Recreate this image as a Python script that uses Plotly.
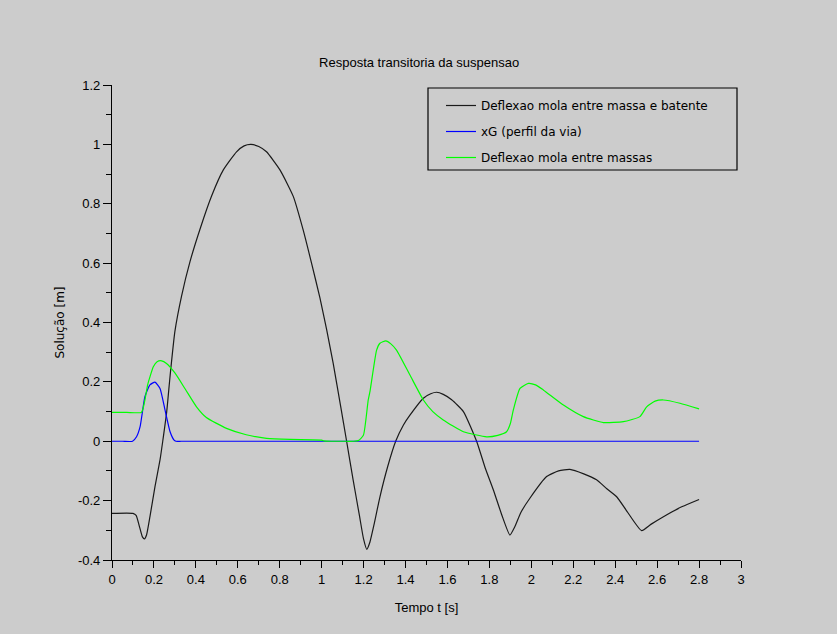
import plotly.graph_objects as go

# ---- data ----
t_black = [0, 0.1, 0.115, 0.13, 0.145, 0.155, 0.165, 0.181, 0.205, 0.229, 0.242, 0.261, 0.277, 0.3,
           0.332, 0.372, 0.42, 0.475, 0.531, 0.594, 0.63, 0.663, 0.70, 0.737, 0.801, 0.865, 0.912,
           0.952, 0.992, 1.024, 1.055, 1.09, 1.119, 1.15, 1.18, 1.2, 1.215, 1.23, 1.25, 1.278, 1.315,
           1.353, 1.39, 1.421, 1.485, 1.52, 1.548, 1.58, 1.62, 1.676, 1.739, 1.78, 1.819, 1.86, 1.898,
           1.92, 1.95, 1.993, 2.073, 2.13, 2.184, 2.25, 2.311, 2.36, 2.407, 2.46, 2.526, 2.57, 2.63,
           2.72, 2.8]
y_black = [-0.243, -0.243, -0.25, -0.285, -0.322, -0.329, -0.315, -0.254, -0.153, -0.063, 0.0, 0.10,
           0.22, 0.37, 0.49, 0.605, 0.715, 0.826, 0.914, 0.975, 0.995, 1.0, 0.993, 0.975, 0.914, 0.824,
           0.711, 0.599, 0.482, 0.375, 0.262, 0.12, 0.0, -0.13, -0.25, -0.33, -0.364, -0.34, -0.28,
           -0.187, -0.085, 0.0, 0.055, 0.088, 0.145, 0.16, 0.165, 0.158, 0.14, 0.1, 0.0, -0.09, -0.164,
           -0.25, -0.316, -0.29, -0.24, -0.192, -0.119, -0.1, -0.095, -0.11, -0.13, -0.16, -0.187,
           -0.24, -0.301, -0.28, -0.254, -0.22, -0.196]

t_blue = [0, 0.05, 0.098, 0.117, 0.134, 0.157, 0.181, 0.205, 0.229, 0.253, 0.277, 0.295, 0.305,
          0.33, 0.5, 1.0, 1.5, 2.0, 2.5, 2.8]
y_blue = [0, 0, 0, 0.015, 0.049, 0.15, 0.19, 0.199, 0.178, 0.105, 0.032, 0.005, 0,
          0, 0, 0, 0, 0, 0, 0]

t_green = [0, 0.07, 0.14, 0.148, 0.157, 0.17, 0.181, 0.197, 0.215, 0.237, 0.26, 0.3, 0.35, 0.403,
           0.45, 0.546, 0.64, 0.737, 0.85, 1.0, 1.01, 1.05, 1.1, 1.15, 1.175, 1.199, 1.222, 1.231,
           1.262, 1.278, 1.306, 1.33, 1.357, 1.421, 1.485, 1.53, 1.58, 1.676, 1.787, 1.84, 1.882,
           1.9, 1.914, 1.946, 1.986, 2.02, 2.057, 2.153, 2.248, 2.344, 2.439, 2.518, 2.55, 2.59, 2.63,
           2.709, 2.8]
y_green = [0.097, 0.097, 0.097, 0.11, 0.139, 0.19, 0.217, 0.251, 0.268, 0.271, 0.262, 0.23, 0.175,
           0.116, 0.08, 0.0435, 0.022, 0.01, 0.006, 0.004, 0.001, 0.0, 0.0, 0.0, 0.002, 0.02, 0.139,
           0.17, 0.307, 0.33, 0.338, 0.328, 0.307, 0.223, 0.139, 0.1, 0.072, 0.032, 0.015, 0.02, 0.032,
           0.06, 0.105, 0.178, 0.195, 0.19, 0.173, 0.122, 0.083, 0.063, 0.066, 0.083, 0.116, 0.135,
           0.139, 0.128, 0.109]

names = ["Deflexao mola entre massa e batente", "xG (perfil da via)", "Deflexao mola entre massas"]
title_text = "Resposta transitoria da suspensao"
x_title = "Tempo t [s]"
y_title = "Solução [m]"
x_ticks = [0, 0.2, 0.4, 0.6, 0.8, 1, 1.2, 1.4, 1.6, 1.8, 2, 2.2, 2.4, 2.6, 2.8, 3]
y_ticks = [-0.4, -0.2, 0, 0.2, 0.4, 0.6, 0.8, 1, 1.2]

BG = "#cccccc"
W, H = 837, 634
ML, MR, MT, MB = 112, 96, 85, 74

fig = go.Figure()
series = [(t_black, y_black, "#1a1a1a"), (t_blue, y_blue, "#0000ff"), (t_green, y_green, "#00ff00")]
for i, (tx, ty, c) in enumerate(series):
    fig.add_trace(go.Scatter(x=tx, y=ty, mode="lines", name=names[i], legendgroup=f"g{i}",
                             line=dict(color=c, width=1.2, shape="spline", smoothing=0.5)))

pw = W - ML - MR
ph = H - MT - MB
def px_x(p):
    return (p - ML) / pw
def px_y(p):
    return (H - MB - p) / ph

fig.update_layout(
    width=W, height=H,
    margin=dict(l=ML, r=MR, t=MT, b=MB),
    paper_bgcolor=BG, plot_bgcolor=BG,
    title=dict(text=title_text, x=px_x(427), xanchor="center", y=1 - 62 / H, yanchor="middle",
               font=dict(family="Liberation Sans", size=13, color="#000000")),
    showlegend=True,
    legend=dict(x=px_x(441), xanchor="left", y=px_y(91), yanchor="top",
                bgcolor="rgba(0,0,0,0)", borderwidth=0, tracegroupgap=7,
                font=dict(family="DejaVu Sans", size=12, color="#000000")),
    font=dict(family="Liberation Sans", color="#000000"),
)
fig.update_xaxes(range=[0, 3], tickvals=x_ticks, ticktext=[f"{v:g}" for v in x_ticks],
                 showgrid=False, zeroline=False, showline=True, linecolor="#000000", linewidth=1.2,
                 ticks="outside", ticklen=7, tickwidth=1.2, tickcolor="#000000",
                 tickfont=dict(family="Liberation Sans", size=13, color="#000000"),
                 minor=dict(dtick=0.1, tick0=0, ticks="outside", ticklen=4, tickwidth=1.2,
                            tickcolor="#000000", showgrid=False),
                 title=dict(text=x_title, standoff=17,
                            font=dict(family="Liberation Sans", size=13, color="#000000")))
fig.update_yaxes(range=[-0.4, 1.2], tickvals=y_ticks, ticktext=[f"{v:g}" for v in y_ticks],
                 showgrid=False, zeroline=False, showline=True, linecolor="#000000", linewidth=1.2,
                 ticks="outside", ticklen=8, tickwidth=1.2, tickcolor="#000000",
                 tickfont=dict(family="Liberation Sans", size=13, color="#000000"),
                 minor=dict(dtick=0.1, tick0=0, ticks="outside", ticklen=5, tickwidth=1.2,
                            tickcolor="#000000", showgrid=False),
                 title=dict(text=y_title, standoff=10,
                            font=dict(family="DejaVu Sans", size=12, color="#000000")))

# legend frame
fig.add_shape(type="rect", xref="paper", yref="paper",
              x0=px_x(428), x1=px_x(737), y0=px_y(170), y1=px_y(88),
              line=dict(color="#000000", width=1.2), fillcolor="rgba(0,0,0,0)", layer="above")

fig.write_html("out.html")
